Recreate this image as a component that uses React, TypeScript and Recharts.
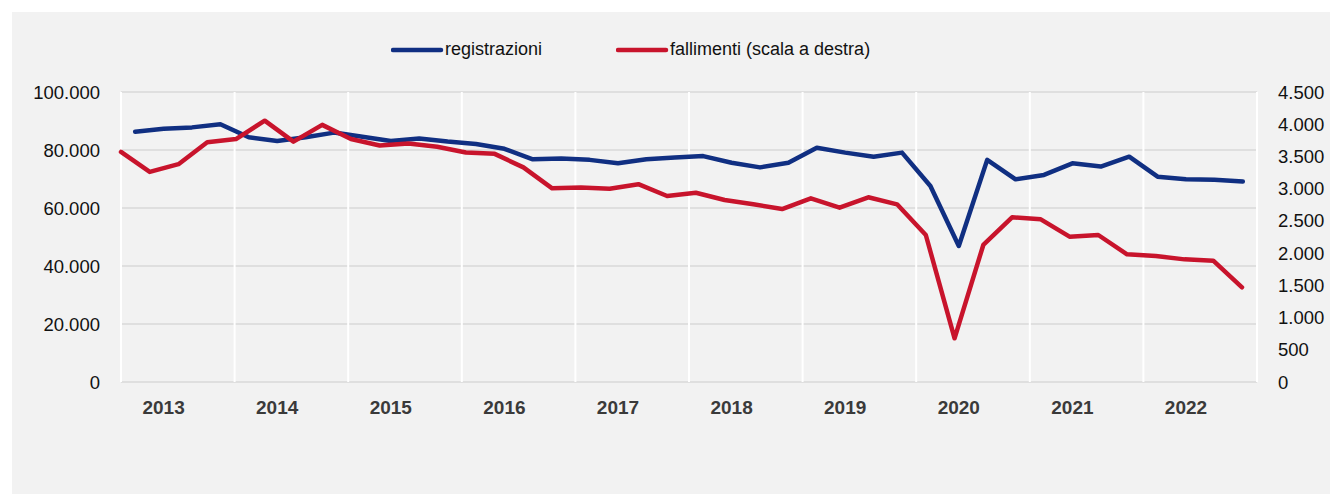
import React from 'react';
import { LineChart, Line, XAxis, YAxis, CartesianGrid, ReferenceLine } from 'recharts';

const years = ['2013', '2014', '2015', '2016', '2017', '2018', '2019', '2020', '2021', '2022'];
const quarters = years.flatMap((y) => ['Q1', 'Q2', 'Q3', 'Q4'].map((q) => `${y}${q}`));

// registrazioni (left axis)
const registrazioni = [
  86300, 87300, 87800, 88900, 84400, 83100, 84400, 86000, 84600, 83100,
  84000, 82900, 82100, 80400, 76800, 77100, 76600, 75400, 76800, 77400,
  77900, 75600, 74000, 75600, 80800, 79100, 77700, 79100, 67600, 46900,
  76600, 69900, 71400, 75400, 74300, 77700, 70800, 69900, 69700, 69100,
];

// fallimenti (right axis)
const fallimenti = [
  3570, 3260, 3380, 3720, 3770, 4055, 3730, 3990, 3770, 3670,
  3700, 3650, 3560, 3540, 3330, 3005, 3020, 3000, 3070, 2886,
  2937, 2824, 2757, 2684, 2850, 2705, 2866, 2757, 2281, 678,
  2126, 2556, 2524, 2255, 2281, 1981, 1955, 1903, 1882, 1469,
];

const leftTicks = [0, 20000, 40000, 60000, 80000, 100000];
const rightTicks = [0, 500, 1000, 1500, 2000, 2500, 3000, 3500, 4000, 4500];
const yearTicks = years.map((y) => `${y}Q2`);

const BLUE = '#102f82';
const RED = '#c8142c';
const FONT = '"Liberation Sans", Arial, sans-serif';

const data = quarters.map((quarter, i) => ({
  quarter,
  registrazioni: registrazioni[i],
  fallimenti: fallimenti[i],
}));

const fmt = (v: number) => String(v).replace(/\B(?=(\d{3})+(?!\d))/g, '.');

function ChartLegend() {
  return (
    <div
      style={{
        position: 'absolute',
        top: 27,
        left: 379,
        display: 'flex',
        alignItems: 'center',
        fontFamily: FONT,
        fontSize: 18,
        color: '#111',
        whiteSpace: 'nowrap',
      }}
    >
      <svg width={54} height={10}>
        <line x1={2} y1={5} x2={50} y2={5} stroke={BLUE} strokeWidth={4.5} strokeLinecap="round" />
      </svg>
      <span style={{ marginRight: 74 }}>registrazioni</span>
      <svg width={54} height={10}>
        <line x1={2} y1={5} x2={50} y2={5} stroke={RED} strokeWidth={4.5} strokeLinecap="round" />
      </svg>
      <span>fallimenti (scala a destra)</span>
    </div>
  );
}

export default function App() {
  return (
    <div style={{ position: 'absolute', left: 12, top: 12, width: 1318, height: 482, background: '#f2f2f2' }}>
      <ChartLegend />
      <LineChart
        width={1318}
        height={482}
        data={data}
        margin={{ top: 80, right: 0, bottom: 72, left: 9 }}
      >
        <CartesianGrid yAxisId="left" xAxisId="q" vertical={false} stroke="#d9d9d9" strokeWidth={1.5} />
        <XAxis
          xAxisId="q"
          dataKey="quarter"
          scale="band"
          ticks={yearTicks}
          tickFormatter={(v: string) => v.slice(0, 4)}
          axisLine={false}
          tickLine={false}
          tickSize={0}
          tickMargin={19}
          height={40}
          interval={0}
          tick={{ fontFamily: FONT, fontSize: 19, fontWeight: 'bold', fill: '#3a3a3a' }}
        />
        <XAxis xAxisId="r" dataKey="quarter" hide padding={{ left: 0, right: 15 }} />
        <YAxis
          yAxisId="left"
          domain={[0, 100000]}
          ticks={leftTicks}
          tickFormatter={fmt}
          axisLine={false}
          tickLine={false}
          tickSize={0}
          tickMargin={21}
          width={100}
          tick={{ fontFamily: FONT, fontSize: 18.5, fill: '#111' }}
        />
        <YAxis
          yAxisId="right"
          orientation="right"
          domain={[0, 4500]}
          ticks={rightTicks}
          tickFormatter={fmt}
          axisLine={false}
          tickLine={false}
          tickSize={0}
          tickMargin={21}
          width={73}
          tick={{ fontFamily: FONT, fontSize: 18.5, fill: '#111', textAnchor: 'start' }}
        />
        {years.map((y) => (
          <ReferenceLine
            key={y}
            xAxisId="q"
            yAxisId="left"
            x={`${y}Q1`}
            position="start"
            stroke="#ffffff"
            strokeWidth={2}
          />
        ))}
        <ReferenceLine xAxisId="q" yAxisId="left" x="2022Q4" position="end" stroke="#ffffff" strokeWidth={2} />
        <Line
          xAxisId="q"
          yAxisId="left"
          dataKey="registrazioni"
          stroke={BLUE}
          strokeWidth={4.5}
          strokeLinecap="round"
          strokeLinejoin="round"
          dot={false}
          isAnimationActive={false}
        />
        <Line
          xAxisId="r"
          yAxisId="right"
          dataKey="fallimenti"
          stroke={RED}
          strokeWidth={4.5}
          strokeLinecap="round"
          strokeLinejoin="round"
          dot={false}
          isAnimationActive={false}
        />
      </LineChart>
    </div>
  );
}
